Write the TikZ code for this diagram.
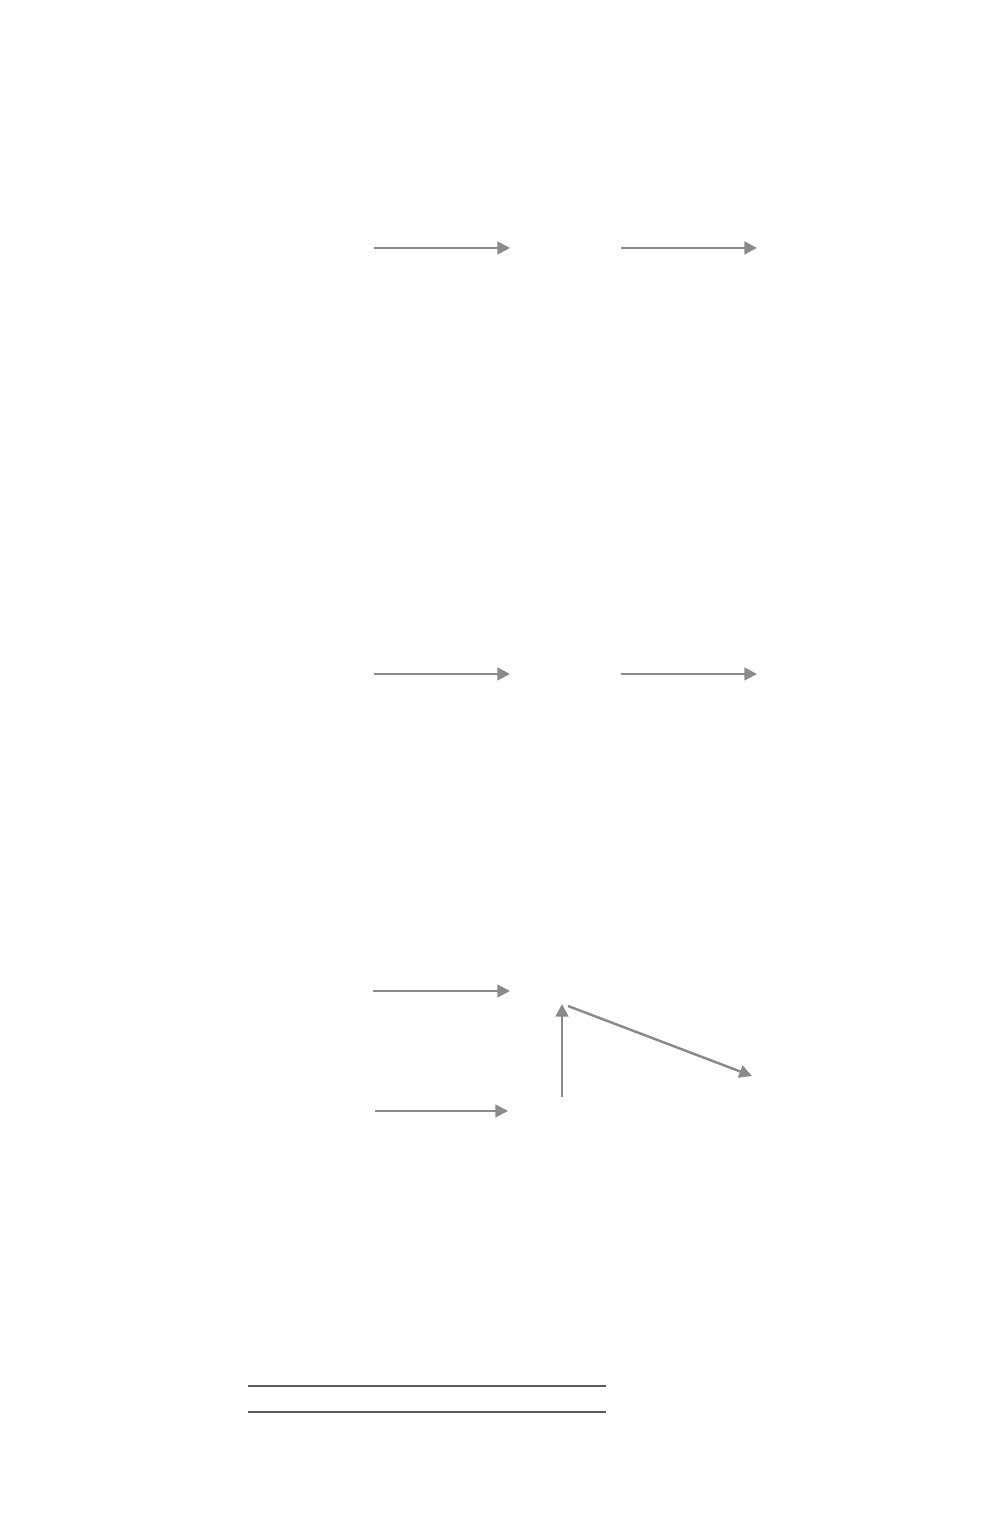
\documentclass[tikz,border=0pt]{standalone}
\usetikzlibrary{positioning,arrows.meta}
\definecolor{flowgray}{HTML}{8A8A8A}
\definecolor{rulegray}{HTML}{5A5A5A}
\tikzset{
	flow/.style={-{Triangle[length=3.6pt,width=3.6pt]},draw=flowgray,fill=flowgray,line width=0.7pt},
	rule/.style={draw=rulegray,line width=0.45pt}
}

\begin{document}
\begin{tikzpicture}
	\useasboundingbox (0,0) rectangle (10,15.28);
	
	% row one
	\coordinate (a1) at (3.74,12.80);
	\coordinate (b1) at (5.10,12.80);
	\coordinate (c1) at (6.21,12.80);
	\coordinate (d1) at (7.57,12.80);
	
	% row two
	\coordinate (a2) at (3.74,8.54);
	\coordinate (b2) at (5.10,8.54);
	\coordinate (c2) at (6.21,8.54);
	\coordinate (d2) at (7.57,8.54);
	
	% row three
	\coordinate (in1) at (3.73,5.37);
	\coordinate (out1) at (5.10,5.37);
	\coordinate (in2) at (3.75,4.17);
	\coordinate (out2) at (5.08,4.17);
	\coordinate (up0) at (5.62,4.31);
	\coordinate (up1) at (5.62,5.24);
	\coordinate (dg0) at (5.68,5.22);
	\coordinate (dg1) at (7.52,4.52);
	
	% rules
	\coordinate (r1a) at (2.48,1.42);
	\coordinate (r1b) at (6.06,1.42);
	\coordinate (r2a) at (2.48,1.16);
	\coordinate (r2b) at (6.06,1.16);
	
	\draw[flow] (a1) -- (b1);
	\draw[flow] (c1) -- (d1);
	\draw[flow] (a2) -- (b2);
	\draw[flow] (c2) -- (d2);
	\draw[flow] (in1) -- (out1);
	\draw[flow] (in2) -- (out2);
	\draw[flow] (up0) -- (up1);
	\draw[flow] (dg0) -- (dg1);
	
	\draw[rule] (r1a) -- (r1b);
	\draw[rule] (r2a) -- (r2b);
	
\end{tikzpicture}
\end{document}
